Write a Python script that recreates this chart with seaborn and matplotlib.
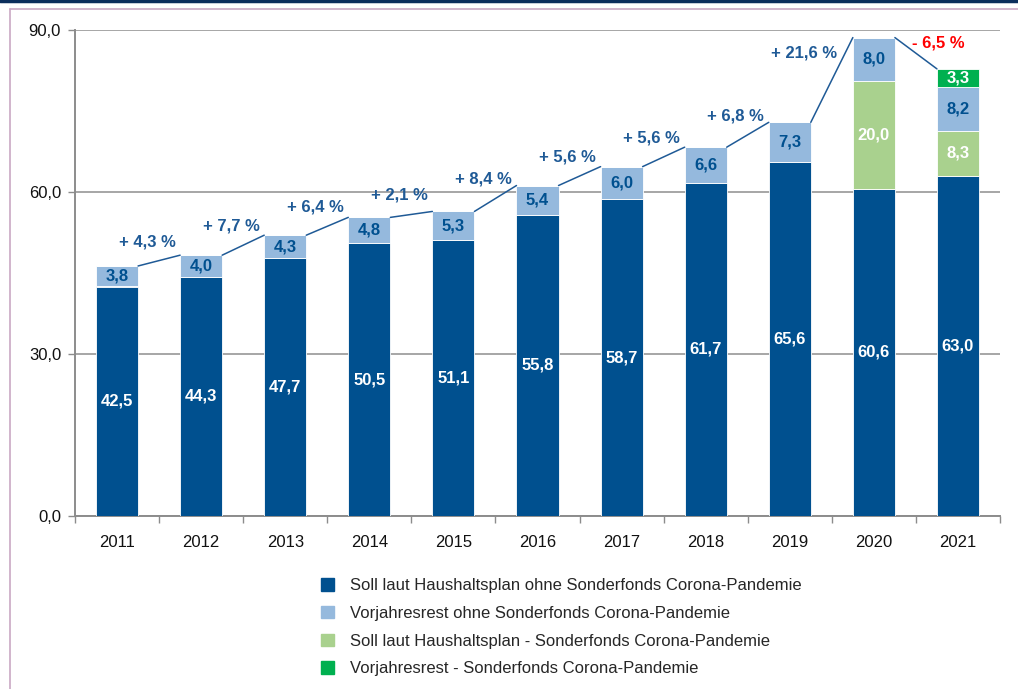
import matplotlib
matplotlib.use("Agg")
import matplotlib.pyplot as plt
from matplotlib.lines import Line2D
from matplotlib.patches import Patch
import seaborn as sns
import numpy as np
import pandas as pd

years = ["2011", "2012", "2013", "2014", "2015", "2016", "2017", "2018", "2019", "2020", "2021"]
soll = [42.5, 44.3, 47.7, 50.5, 51.1, 55.8, 58.7, 61.7, 65.6, 60.6, 63.0]
vorjahr = [3.8, 4.0, 4.3, 4.8, 5.3, 5.4, 6.0, 6.6, 7.3, 8.0, 8.2]
soll_corona = [0, 0, 0, 0, 0, 0, 0, 0, 0, 20.0, 8.3]
vorjahr_corona = [0, 0, 0, 0, 0, 0, 0, 0, 0, 0, 3.3]
changes = ["+ 4,3 %", "+ 7,7 %", "+ 6,4 %", "+ 2,1 %", "+ 8,4 %", "+ 5,6 %",
           "+ 5,6 %", "+ 6,8 %", "+ 21,6 %", "- 6,5 %"]
yticks = [0, 30, 60, 90]
series_names = ["Soll laut Haushaltsplan ohne Sonderfonds Corona-Pandemie",
                "Vorjahresrest ohne Sonderfonds Corona-Pandemie",
                "Soll laut Haushaltsplan - Sonderfonds Corona-Pandemie",
                "Vorjahresrest - Sonderfonds Corona-Pandemie"]

colors = ["#00508F", "#95B9DD", "#A9D18E", "#00B050"]
text_colors = ["white", "#00508F", "white", "white"]
dark = "#1F5A96"

sns.set_theme(style="white")
plt.rcParams["font.family"] = ["Liberation Sans", "DejaVu Sans"]

fig = plt.figure(figsize=(10.18, 6.89), dpi=100)
ax = fig.add_axes([75 / 1018, 1 - 516 / 689, 925 / 1018, 486 / 689])

series = [soll, vorjahr, soll_corona, vorjahr_corona]
stack_order = [0, 2, 1, 3]  # drawing order from bottom to top
bottom = np.zeros(len(years))
for k in stack_order:
    vals = np.array(series[k], dtype=float)
    col, tcol = colors[k], text_colors[k]
    df = pd.DataFrame({"year": years, "v": vals})
    sns.barplot(data=df, x="year", y="v", order=years, color=col, width=0.5,
                bottom=bottom, saturation=1, linewidth=0.6, edgecolor="white",
                ax=ax, zorder=3)
    for i, v in enumerate(vals):
        if v > 0:
            ax.text(i, bottom[i] + v / 2, f"{v:.1f}".replace(".", ","),
                    ha="center", va="center", color=tcol, fontsize=12,
                    fontweight="bold", zorder=5)
    bottom = bottom + vals

totals = bottom
for i in range(len(years) - 1):
    x0, x1 = i + 0.25, i + 0.75
    y0, y1 = totals[i], totals[i + 1]
    ax.plot([x0, x1], [y0, y1], color=dark, lw=1.1, zorder=4, clip_on=False)
    dx, dy = -12, 19
    if i == len(years) - 3:
        dx, dy = -28, 27
    if i == len(years) - 2:
        dx, dy = 22, 10
    col = "#FF0000" if changes[i].startswith("-") else dark
    ax.annotate(changes[i], xy=((x0 + x1) / 2, (y0 + y1) / 2),
                xytext=(dx, dy), textcoords="offset pixels",
                ha="center", va="center", color=col, fontsize=12,
                fontweight="bold", zorder=5)

ax.set_xlim(-0.5, len(years) - 0.5)
ax.set_ylim(0, 90)
ax.set_yticks(yticks)
ax.set_yticklabels([f"{t:.1f}".replace(".", ",") for t in yticks], fontsize=12)
ax.set_xlabel("")
ax.set_ylabel("")
ax.yaxis.grid(True, color="#A6A6A6", lw=1.4, zorder=0)
ax.set_axisbelow(True)
for s in ["top", "right"]:
    ax.spines[s].set_visible(False)
for s in ["left", "bottom"]:
    ax.spines[s].set_color("#8C8C8C")
    ax.spines[s].set_linewidth(1.4)
ax.tick_params(axis="y", left=True, length=5, color="#8C8C8C", width=1, labelsize=12, pad=5)
ax.tick_params(axis="x", bottom=False, labelsize=12, pad=8)
ax.set_xticks(range(len(years)))
ax.set_xticklabels(years, fontsize=12)
ax.set_xticks(np.arange(-0.5, len(years)), minor=True)
ax.tick_params(axis="x", which="minor", bottom=True, length=5, color="#8C8C8C", width=1)
for lbl in ax.get_xticklabels() + ax.get_yticklabels():
    lbl.set_color("#111111")

handles = [Patch(facecolor=c, edgecolor=c) for c in colors]
fig.legend(handles, series_names, loc="upper left", bbox_to_anchor=(313 / 1018, 1 - 570 / 689),
           frameon=False, fontsize=12, handlelength=0.75, handleheight=0.75,
           handletextpad=1.0, labelspacing=0.76, borderpad=0)

# decorative frame
fig.add_artist(Line2D([0, 1], [1 - 1 / 689, 1 - 1 / 689], color="#0B2E5C", lw=2.5, transform=fig.transFigure))
fig.add_artist(Line2D([10 / 1018, 1], [1 - 9 / 689, 1 - 9 / 689], color="#C9A8C4", lw=1.2, transform=fig.transFigure))
fig.add_artist(Line2D([10 / 1018, 10 / 1018], [0, 1 - 9 / 689], color="#C9A8C4", lw=1.2, transform=fig.transFigure))

fig.savefig("out.png", dpi=100)
